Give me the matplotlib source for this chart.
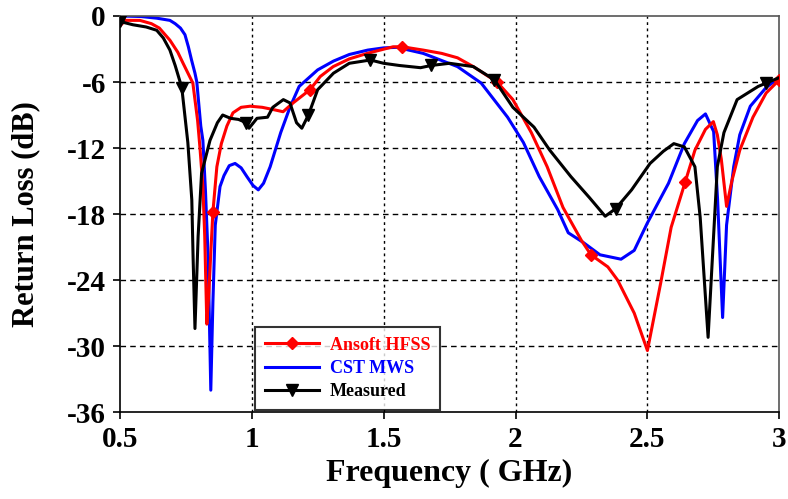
import numpy as np
import matplotlib
matplotlib.use("Agg")
import matplotlib.pyplot as plt

plt.rcParams['font.family'] = ['Liberation Serif', 'DejaVu Serif']
plt.rcParams['font.weight'] = 'bold'
plt.rcParams['axes.unicode_minus'] = False

# Ansoft HFSS simulation
hfss_f = [0.50, 0.576, 0.62, 0.65, 0.69, 0.72, 0.74, 0.777, 0.795, 0.804, 0.815,
          0.822, 0.830, 0.838, 0.845, 0.853, 0.868, 0.885, 0.906, 0.929, 0.96,
          0.994, 1.04, 1.081, 1.119, 1.157, 1.221, 1.26, 1.309, 1.37, 1.438, 1.536,
          1.571, 1.65, 1.72, 1.78, 1.84, 1.93, 1.99, 2.06, 2.12, 2.18, 2.25,
          2.286, 2.35, 2.387, 2.45, 2.50, 2.55, 2.59, 2.643, 2.68, 2.72, 2.75,
          2.765, 2.78, 2.80, 2.82, 2.85, 2.90, 2.95, 3.00]
hfss_db = [-0.4, -0.4, -0.7, -1.1, -2.2, -3.3, -4.3, -6.1, -9.5, -12.0, -15.5,
           -20.0, -28.0, -25.0, -21.5, -17.8, -13.7, -11.6, -10.0, -8.8, -8.3,
           -8.2, -8.3, -8.5, -8.7, -7.9, -6.7, -5.5, -4.6, -3.9, -3.4, -2.8,
           -2.8, -3.1, -3.4, -3.8, -4.6, -6.0, -7.6, -10.6, -13.7, -17.4, -20.4,
           -21.7, -22.8, -24.0, -27.0, -30.4, -24.3, -19.2, -15.1, -12.2, -10.3, -9.6,
           -10.8, -13.0, -17.3, -15.0, -12.2, -9.2, -7.0, -5.8]
hfss_marks = [0.50, 0.853, 1.221, 1.571, 1.93, 2.286, 2.643, 3.00]

# CST MWS simulation
cst_f = [0.50, 0.58, 0.64, 0.69, 0.71, 0.73, 0.747, 0.76, 0.772, 0.785, 0.792,
         0.807, 0.815, 0.825, 0.835, 0.845, 0.853, 0.862, 0.88, 0.895, 0.915,
         0.937, 0.96, 0.982, 1.005, 1.025, 1.045, 1.07, 1.11, 1.145, 1.18, 1.25,
         1.31, 1.37, 1.44, 1.50, 1.55, 1.65, 1.78, 1.87, 1.97, 2.03, 2.09, 2.16,
         2.20, 2.258, 2.32, 2.40, 2.45, 2.50, 2.58, 2.64, 2.69, 2.72, 2.751,
         2.766, 2.785, 2.80, 2.827, 2.85, 2.89, 2.95, 3.00]
cst_db = [0.0, -0.05, -0.2, -0.4, -0.7, -1.1, -1.7, -2.8, -4.0, -5.2, -6.0,
          -10.0, -11.3, -16.0, -22.0, -34.0, -26.0, -19.0, -15.5, -14.5, -13.6,
          -13.4, -13.8, -14.6, -15.4, -15.8, -15.2, -13.7, -10.6, -8.3, -6.4, -4.9,
          -4.1, -3.5, -3.1, -2.9, -2.85, -3.4, -4.6, -6.1, -9.2, -11.5, -14.6, -17.6,
          -19.7, -20.6, -21.7, -22.1, -21.3, -18.8, -15.2, -11.6, -9.5, -8.9, -10.5,
          -16.7, -27.4, -19.0, -13.7, -10.8, -8.2, -6.5, -5.6]

# Measured
meas_f = [0.50, 0.55, 0.60, 0.64, 0.665, 0.69, 0.71, 0.735, 0.758, 0.773, 0.778,
          0.785, 0.797, 0.81, 0.842, 0.87, 0.89, 0.92, 0.95, 0.98, 0.99, 1.02,
          1.06, 1.08, 1.12, 1.145, 1.17, 1.19, 1.215, 1.25, 1.31, 1.37, 1.45,
          1.50, 1.56, 1.64, 1.68, 1.75, 1.84, 1.92, 1.99, 2.07, 2.13, 2.21,
          2.28, 2.34, 2.38, 2.44, 2.51, 2.56, 2.60, 2.64, 2.68, 2.70, 2.73,
          2.765, 2.79, 2.84, 2.92, 2.95, 3.00]
meas_db = [-0.5, -0.8, -1.0, -1.3, -2.0, -3.1, -4.5, -6.5, -11.5, -16.7, -22.0,
           -28.4, -20.0, -14.3, -11.3, -9.7, -9.0, -9.3, -9.4, -9.7, -10.2, -9.3,
           -9.2, -8.3, -7.6, -7.9, -9.7, -10.2, -9.0, -6.7, -5.2, -4.3, -4.0,
           -4.3, -4.5, -4.7, -4.5, -4.3, -4.6, -5.8, -8.3, -10.1, -12.2, -14.6,
           -16.5, -18.2, -17.5, -15.8, -13.4, -12.3, -11.6, -11.9, -13.7, -18.3, -29.2,
           -13.7, -10.6, -7.6, -6.4, -6.1, -5.6]
meas_marks = [0.50, 0.735, 0.98, 1.215, 1.45, 1.68, 1.92, 2.38, 2.95]

xticks = [0.5, 1, 1.5, 2, 2.5, 3]
xticklabels = ['0.5', '1', '1.5', '2', '2.5', '3']
yticks = [0, -6, -12, -18, -24, -30, -36]


def mark_idx(f, marks):
    return [int(i) for i in np.where(np.isin(np.round(f, 3), np.round(marks, 3)))[0]]


fig, ax = plt.subplots(figsize=(7.88, 4.99), dpi=100)
fig.subplots_adjust(left=0.152, right=0.989, top=0.968, bottom=0.174)

ax.plot(hfss_f, hfss_db, color='#ff0000', lw=2.2, marker='D', ms=6,
        markevery=mark_idx(hfss_f, hfss_marks), label='Ansoft HFSS', zorder=3)
ax.plot(cst_f, cst_db, color='#0000ff', lw=2.2, label='CST MWS', zorder=2)
ax.plot(meas_f, meas_db, color='black', lw=2.2, marker='v', ms=8,
        markevery=mark_idx(meas_f, meas_marks), label='Measured', zorder=4)

ax.set_xlim(0.5, 3)
ax.set_ylim(-36, 0)
ax.set_xticks(xticks)
ax.set_xticklabels(xticklabels)
ax.set_yticks(yticks)
ax.tick_params(labelsize=21, direction='out', length=5, width=1.2, pad=5)

# dotted verticals, dashed horizontals
for x in xticks[1:-1]:
    ax.axvline(x, color='black', lw=1.0, ls=(0, (2, 2.5)), zorder=1)
for y in yticks[1:-1]:
    ax.axhline(y, color='black', lw=1.0, ls=(0, (4, 3)), zorder=1)

for s in ax.spines.values():
    s.set_linewidth(1.2)
ax.spines['top'].set_color('#555555')
ax.spines['right'].set_color('#555555')

ax.set_xlabel('Frequency ( GHz)', fontsize=23, fontweight='bold', labelpad=4)
ax.set_ylabel('Return Loss (dB)', fontsize=22, fontweight='bold')
ax.yaxis.set_label_coords(-0.12, 0.5)

leg = ax.legend(loc='lower left', bbox_to_anchor=(0.205, 0.005), borderaxespad=0,
                fontsize=13, frameon=True, fancybox=False, edgecolor='black',
                handlelength=3.0, handletextpad=0.6, labelspacing=0.35, borderpad=0.55)
leg.get_frame().set_linewidth(1.5)
for txt, c in zip(leg.get_texts(), ['#ff0000', '#0000ff', 'black']):
    txt.set_color(c)
    txt.set_fontweight('bold')

fig.savefig('out.png', dpi=100)
